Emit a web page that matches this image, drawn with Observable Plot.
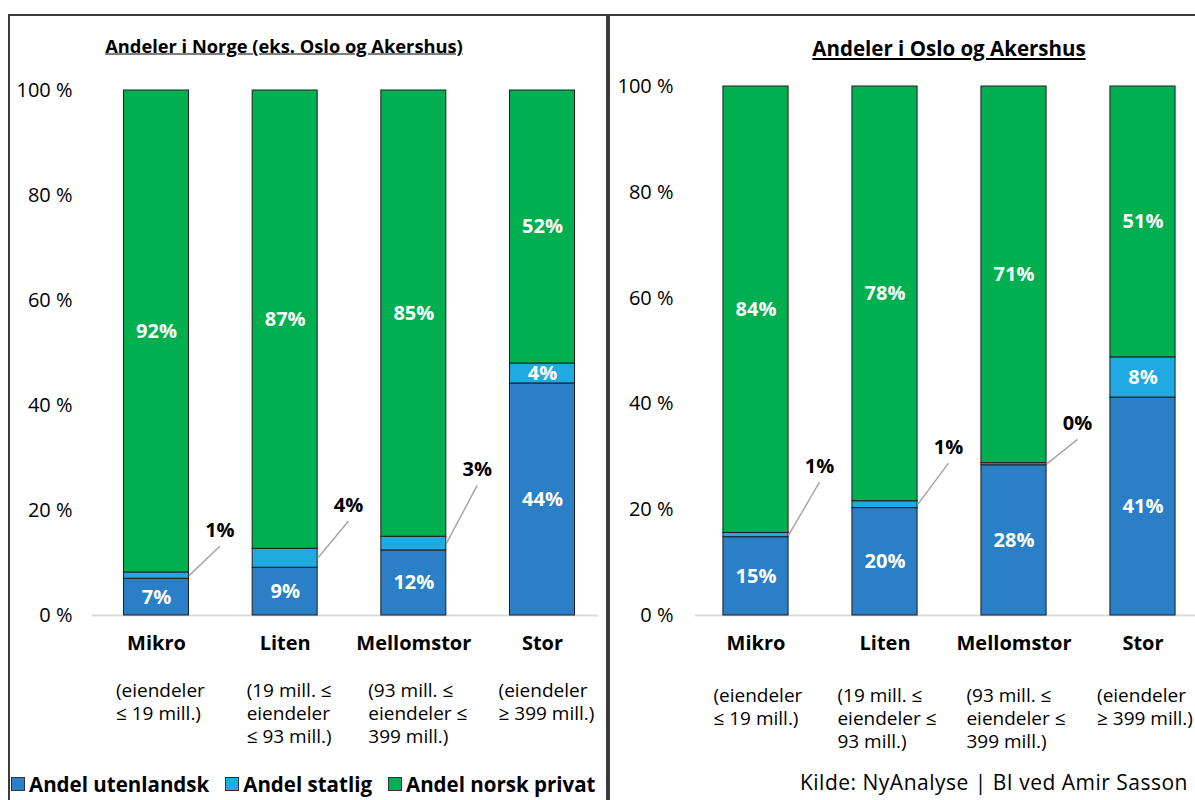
<!DOCTYPE html>
<html><head><meta charset="utf-8">
<script src="https://cdn.jsdelivr.net/npm/d3@7"></script>
<script src="https://cdn.jsdelivr.net/npm/@observablehq/plot@0.6"></script>
<style>
body{margin:0;background:#fff;font-family:"Open Sans",sans-serif;color:#000;}
#wrap{position:relative;width:1195px;height:800px;overflow:hidden;}
.panel{position:absolute;top:14px;height:820px;border:2px solid #3a3a3a;box-sizing:border-box;pointer-events:none;}
.title{position:absolute;font-weight:bold;text-decoration:underline;white-space:nowrap;transform:translate(-50%,-50%);}
.chart{position:absolute;top:0;}
#legend{position:absolute;left:11px;top:770px;display:flex;gap:16px;font-weight:bold;font-size:20.5px;align-items:center;white-space:nowrap;}
#legend .item{display:flex;align-items:center;gap:4px;}
#legend .sw{width:12px;height:12px;border:1px solid #333;}
#source{position:absolute;right:7px;top:768px;font-size:21px;letter-spacing:0.5px;white-space:nowrap;}
</style></head><body>
<div id="wrap">
  <div id="leftChart" class="chart" style="left:0px"></div>
  <div id="rightChart" class="chart" style="left:607px"></div>
  <div class="panel" style="left:8px;width:600px"></div>
  <div class="panel" style="left:608px;width:600px"></div>
  <div id="titleLeft" class="title" style="left:284px;top:45px;font-size:18.3px"></div>
  <div id="titleRight" class="title" style="left:949px;top:48px;font-size:20.5px"></div>
  <div id="legend"></div>
  <div id="source"></div>
</div>
<script>
const FONT = '"Open Sans", sans-serif';
const titleNorge = "Andeler i Norge (eks. Oslo og Akershus)";
const titleOslo = "Andeler i Oslo og Akershus";
const sourceText = "Kilde: NyAnalyse | BI ved Amir Sasson";
const categories = ["Mikro", "Liten", "Mellomstor", "Stor"];
const descNorge = ["(eiendeler\n≤ 19 mill.)", "(19 mill. ≤\neiendeler\n≤ 93 mill.)", "(93 mill. ≤\neiendeler ≤\n399 mill.)", "(eiendeler\n≥ 399 mill.)"];
const descOslo = ["(eiendeler\n≤ 19 mill.)", "(19 mill. ≤\neiendeler ≤\n93 mill.)", "(93 mill. ≤\neiendeler ≤\n399 mill.)", "(eiendeler\n≥ 399 mill.)"];
const seriesNames = ["Andel utenlandsk", "Andel statlig", "Andel norsk privat"];
const seriesColors = ["#2A7FC6", "#1FAAE1", "#00B050"];
const norgeUtenlandsk = [7.0, 9.1, 12.4, 44.2];
const norgeStatlig = [1.2, 3.6, 2.6, 3.8];
const norgePrivat = [91.8, 87.3, 85.0, 52.0];
const osloUtenlandsk = [14.8, 20.3, 28.4, 41.2];
const osloStatlig = [0.8, 1.3, 0.4, 7.6];
const osloPrivat = [84.4, 78.4, 71.2, 51.2];
// height (in %) of the call-out labels for the thin "statlig" segments (null = label inside bar)
const norgeCalloutAt = [16.2, 21.0, 27.8, null];
const osloCalloutAt = [28.2, 31.8, 36.3, null];
const yTicks = [0, 20, 40, 60, 80, 100];

const HALF = 0.2525;   // half bar width in category units
const LEAD = 0.24;     // horizontal reach of leader line

function buildRows(u, s, p, calloutAt) {
  const rows = [], callouts = [];
  categories.forEach((c, i) => {
    const vals = [u[i], s[i], p[i]];
    let acc = 0;
    vals.forEach((v, k) => {
      const r = {i, cat: c, series: seriesNames[k], value: v, y1: acc, y2: acc + v,
                 label: Math.round(v) + "%", inside: !(k === 1 && calloutAt[i] != null)};
      rows.push(r);
      if (!r.inside) callouts.push({i, mid: (r.y1 + r.y2) / 2, ly: calloutAt[i], label: r.label});
      acc += v;
    });
  });
  return {rows, callouts};
}

function chart({width, marginTop, marginLeft, marginRight, xRange, tickPadding, descDy, descDx, data, descs}) {
  const height = 800;
  return Plot.plot({
    width, height, marginTop, marginBottom: height - 615, marginLeft, marginRight,
    style: {fontFamily: FONT, fontSize: "19px", color: "#000", background: "transparent", overflow: "visible"},
    x: {type: "linear", domain: [0, 3], range: xRange, axis: null},
    y: {domain: [0, 100], axis: null},
    color: {domain: seriesNames, range: seriesColors},
    marks: [
      Plot.ruleY([0], {stroke: "#D9D9D9", strokeWidth: 2}),
      Plot.rectY(data.rows, {x1: d => d.i - HALF, x2: d => d.i + HALF, y1: "y1", y2: "y2",
        fill: d => d.series, stroke: "#1e1e1e", strokeWidth: 1}),
      Plot.axisY({ticks: yTicks, tickSize: 0, tickPadding, tickFormat: d => d + " %", fontSize: 20, fill: "#000", label: null}),
      Plot.axisX({ticks: [0, 1, 2, 3], tickSize: 0, tickPadding: 20, tickFormat: i => categories[i],
        fontWeight: "bold", fontSize: 20, fill: "#000", label: null}),
      Plot.text(descs, {x: (d, i) => i, frameAnchor: "bottom", lineAnchor: "top", dy: descDy, dx: descDx,
        text: d => d, lineHeight: 1.22, fontSize: 19, fill: "#000"}),
      Plot.text(data.rows, {x: "i", y: d => (d.y1 + d.y2) / 2, text: d => d.inside ? d.label : null,
        fill: "white", fontWeight: "bold", fontSize: 20}),
      Plot.link(data.callouts, {x1: d => d.i + HALF, y1: "mid", x2: d => d.i + HALF + LEAD, y2: d => d.ly - 3,
        stroke: "#A6A6A6", strokeWidth: 1.5}),
      Plot.text(data.callouts, {x: d => d.i + HALF + LEAD, y: "ly", text: "label",
        fontWeight: "bold", fontSize: 20, fill: "#000"})
    ]
  });
}

// left-align the lines of each multi-line description while keeping the block centred on its bar
function alignBlocks(svg) {
  svg.querySelectorAll("text").forEach(t => {
    const spans = t.querySelectorAll("tspan");
    if (spans.length < 2) return;
    const w = t.getBBox().width;
    t.setAttribute("text-anchor", "start");
    t.style.textAnchor = "start";
    spans.forEach(s => s.setAttribute("x", -w / 2));
  });
}

const left = chart({width: 607, marginTop: 90, marginLeft: 92, marginRight: 9, xRange: [156, 542],
  tickPadding: 20, descDy: 65, descDx: 4, data: buildRows(norgeUtenlandsk, norgeStatlig, norgePrivat, norgeCalloutAt), descs: descNorge});
const right = chart({width: 588, marginTop: 86, marginLeft: 88, marginRight: 0, xRange: [148.5, 535.5],
  tickPadding: 22, descDy: 70, descDx: 2, data: buildRows(osloUtenlandsk, osloStatlig, osloPrivat, osloCalloutAt), descs: descOslo});
document.getElementById("leftChart").append(left);
document.getElementById("rightChart").append(right);
alignBlocks(left); alignBlocks(right);

document.getElementById("titleLeft").textContent = titleNorge;
document.getElementById("titleRight").textContent = titleOslo;
document.getElementById("source").textContent = sourceText;
const legend = document.getElementById("legend");
seriesNames.forEach((n, k) => {
  const it = document.createElement("div"); it.className = "item";
  const sw = document.createElement("div"); sw.className = "sw"; sw.style.background = seriesColors[k];
  const tx = document.createElement("span"); tx.textContent = n;
  it.append(sw, tx); legend.append(it);
});
</script>
</body></html>
